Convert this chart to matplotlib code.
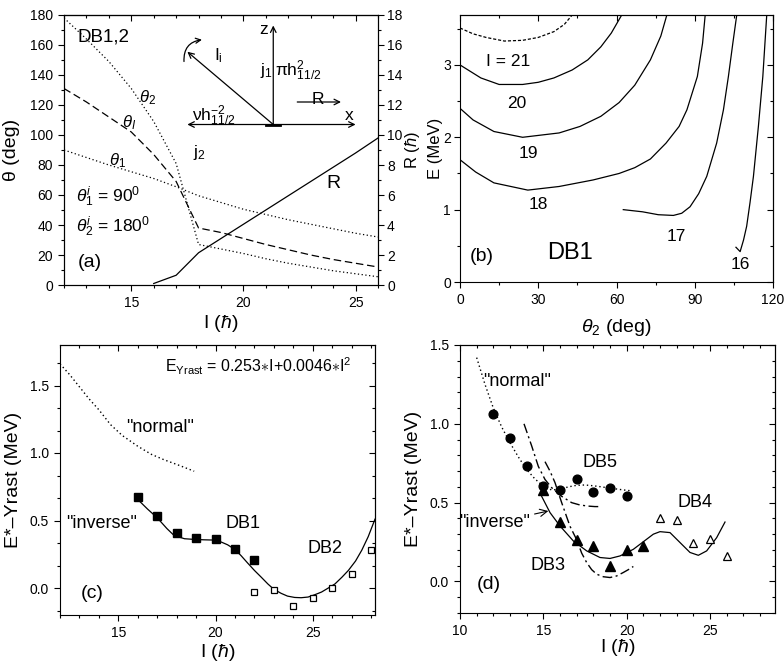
import numpy as np
import matplotlib.pyplot as plt
from matplotlib.ticker import MultipleLocator, NullFormatter

plt.rcParams['font.family'] = ['Liberation Sans', 'DejaVu Sans']
plt.rcParams['mathtext.fontset'] = 'custom'
plt.rcParams['mathtext.rm'] = 'Liberation Sans'
plt.rcParams['mathtext.it'] = 'Liberation Sans:italic'
plt.rcParams['mathtext.bf'] = 'Liberation Sans:bold'
plt.rcParams['axes.linewidth'] = 0.8

# ---- panel (a): angles and R vs spin ----
spin_a = [12, 13, 14, 15, 16, 17, 18, 19, 20, 21, 22, 23, 24, 25, 26]
theta_2 = [178, 164, 149, 131, 109, 81, 27, 24, 21, 17.5, 14.5, 12, 9.5, 7.5, 5.5]
theta_I = [131, 122, 112, 102, 87, 69, 38, 35, 31, 27, 23.5, 20, 17, 14.5, 12]
theta_1 = [90, 85, 80, 75.5, 71, 65.5, 59.5, 55, 50.5, 47, 43.5, 40.5, 37.5, 34.5, 32]
spin_R = [16, 17, 18, 19, 20, 21, 22, 23, 24, 25, 26]
R_vals = [0.1, 0.65, 2.15, 3.1, 4.05, 5.0, 5.95, 6.9, 7.85, 8.8, 9.8]

# ---- panel (b): E(theta_2) curves for fixed I ----
b_th_21 = [0, 5, 10, 17, 24, 30, 36, 40, 43]
b_E_21 = [3.51, 3.43, 3.38, 3.33, 3.34, 3.38, 3.46, 3.56, 3.69]
b_th_20 = [0, 8, 15, 24, 30, 36, 43, 49, 54, 58, 62]
b_E_20 = [3.0, 2.82, 2.73, 2.73, 2.76, 2.82, 2.93, 3.07, 3.25, 3.44, 3.69]
b_th_19 = [0, 5, 13, 24, 38, 46, 54, 61, 67, 73, 77, 79.3]
b_E_19 = [2.40, 2.24, 2.08, 2.0, 2.06, 2.15, 2.29, 2.48, 2.72, 3.07, 3.40, 3.69]
b_th_18 = [0, 6, 13, 26, 38, 51, 61, 67, 73, 79, 84, 87, 91, 93, 94]
b_E_18 = [1.69, 1.52, 1.37, 1.27, 1.32, 1.41, 1.5, 1.58, 1.7, 1.92, 2.15, 2.38, 2.84, 3.3, 3.69]
b_th_17 = [62.6, 70, 76, 81.8, 85, 88.2, 91.5, 94.6, 98.4, 101, 102.9, 104.6, 106.1]
b_E_17 = [1.0, 0.97, 0.93, 0.92, 0.95, 1.04, 1.22, 1.46, 1.92, 2.38, 2.84, 3.3, 3.69]
b_th_16 = [105.8, 107.4, 108.7, 109.9, 111.2, 112.5, 114.4, 116.1, 117.6]
b_E_16 = [0.48, 0.42, 0.58, 0.77, 1.1, 1.46, 2.15, 2.84, 3.69]

# ---- panel (c) ----
spin_db1 = [16, 17, 18, 19, 20, 21, 22]
e_db1 = [0.675, 0.53, 0.41, 0.37, 0.365, 0.29, 0.21]
spin_db2 = [22, 23, 24, 25, 26, 27, 28]
e_db2 = [-0.03, -0.015, -0.135, -0.075, 0.0, 0.105, 0.28]
fit_c_I = [15.97, 16.5, 17.0, 17.5, 17.86, 18.4, 18.9, 19.4, 19.93, 20.3, 20.62, 21.0,
           21.31, 21.65, 22.0, 22.35, 22.69, 23.0, 23.38, 23.7, 24.07, 24.4, 24.76,
           25.1, 25.45, 25.8, 26.14, 26.5, 26.83, 27.2, 27.52, 27.85, 28.2]
fit_c_E = [0.66, 0.585, 0.52, 0.44, 0.39, 0.365, 0.36, 0.357, 0.355, 0.34, 0.32, 0.285,
           0.24, 0.185, 0.13, 0.08, 0.03, -0.01, -0.04, -0.06, -0.07, -0.072, -0.067,
           -0.05, -0.03, 0.0, 0.03, 0.08, 0.13, 0.2, 0.28, 0.38, 0.51]
norm_c_I = [12.0, 12.5, 13.0, 13.5, 14.0, 14.6, 15.2, 16.0, 16.7, 17.35, 18.1, 18.9]
norm_c_E = [1.66, 1.58, 1.49, 1.40, 1.32, 1.21, 1.13, 1.05, 0.99, 0.95, 0.91, 0.865]

# ---- panel (d) ----
spin_db3 = [15, 16, 17, 18, 19, 20, 21]
e_db3 = [0.578, 0.38, 0.263, 0.225, 0.099, 0.198, 0.225]
spin_db4 = [22, 23, 24, 25, 26]
e_db4 = [0.40, 0.39, 0.242, 0.268, 0.162]
spin_db5 = [12, 13, 14, 15, 16, 17, 18, 19, 20]
e_db5 = [1.06, 0.91, 0.73, 0.605, 0.58, 0.647, 0.567, 0.595, 0.542]
norm_d_I = [11.0, 11.5, 12.0, 12.5, 13.0, 13.5, 14.0, 14.5, 15.0, 15.5, 16.0, 16.5,
            17.0, 17.5, 18.0, 18.5, 19.0, 19.5, 20.0, 20.3]
norm_d_E = [1.42, 1.25, 1.10, 0.98, 0.88, 0.79, 0.71, 0.65, 0.605, 0.58, 0.585, 0.60,
            0.61, 0.612, 0.607, 0.60, 0.592, 0.585, 0.578, 0.575]
dda_I = [13.84, 14.3, 14.7, 15.1, 15.5, 16.1, 16.7, 17.2, 17.7, 18.1, 18.5]
dda_E = [1.0, 0.86, 0.73, 0.647, 0.595, 0.54, 0.50, 0.485, 0.478, 0.475, 0.475]
ddb_I = [15.1, 15.4, 15.7, 16.1, 16.6, 17.0, 17.3, 17.6, 17.9, 18.2, 18.6, 19.0,
         19.4, 19.8, 20.1, 20.4]
ddb_E = [0.76, 0.70, 0.627, 0.50, 0.35, 0.265, 0.18, 0.12, 0.075, 0.046, 0.03, 0.025,
         0.035, 0.057, 0.075, 0.095]
fit_d_I = [14.9, 15.4, 16.0, 16.8, 17.6, 18.4, 19.0, 19.6, 20.4, 21.2, 21.6, 22.0,
           22.6, 23.2, 23.8, 24.3, 24.8, 25.4, 25.9]
fit_d_E = [0.54, 0.437, 0.352, 0.257, 0.194, 0.152, 0.146, 0.162, 0.204, 0.268, 0.30,
           0.316, 0.31, 0.247, 0.184, 0.166, 0.194, 0.278, 0.377]

TICK_FS = 10
LAB_FS = 14
TXT_FS = 13
dotted = (0, (1, 2))
dashdot = (0, (7, 2.5, 1.5, 2.5))


def frame(ax, xmaj, xmin, ymaj, ymin, right=True):
    ax.xaxis.set_major_locator(MultipleLocator(xmaj))
    ax.xaxis.set_minor_locator(MultipleLocator(xmin))
    ax.yaxis.set_major_locator(MultipleLocator(ymaj))
    ax.yaxis.set_minor_locator(MultipleLocator(ymin))
    ax.tick_params(which='both', direction='out', labelsize=TICK_FS, width=0.8)
    ax.tick_params(which='major', length=4.5)
    ax.tick_params(which='minor', length=2.5)
    top = ax.secondary_xaxis('top')
    top.xaxis.set_major_locator(MultipleLocator(xmaj))
    top.xaxis.set_minor_locator(MultipleLocator(xmin))
    top.xaxis.set_major_formatter(NullFormatter())
    top.tick_params(which='both', direction='in', width=0.8)
    top.tick_params(which='major', length=4.5)
    top.tick_params(which='minor', length=2.5)
    if right:
        rt = ax.secondary_yaxis('right')
        rt.yaxis.set_major_locator(MultipleLocator(ymaj))
        rt.yaxis.set_minor_locator(MultipleLocator(ymin))
        rt.yaxis.set_major_formatter(NullFormatter())
        rt.tick_params(which='both', direction='in', width=0.8)
        rt.tick_params(which='major', length=4.5)
        rt.tick_params(which='minor', length=2.5)


fig = plt.figure(figsize=(7.84, 6.66), dpi=100)
W, H = 784, 666


def box(l, t, r, b):
    return [l / W, 1 - b / H, (r - l) / W, (b - t) / H]


hbar = 'I ($\\hbar$)'

# ================= (a) =================
ax = fig.add_axes(box(64, 15, 378, 285))
ax.plot(spin_a, theta_2, color='k', lw=0.9, ls=dotted)
ax.plot(spin_a, theta_I, color='k', lw=0.9, ls=(0, (6, 3)))
ax.plot(spin_a, theta_1, color='k', lw=0.9, ls=dotted)
ax.set_xlim(12, 26)
ax.set_ylim(0, 180)
frame(ax, 5, 1, 20, 10, right=False)
ax.set_ylabel('θ (deg)', fontsize=LAB_FS)
ax.set_xlabel(hbar, fontsize=LAB_FS)
ax.yaxis.set_label_coords(-0.14, 0.5)
ax.xaxis.set_label_coords(0.5, -0.105)

ax2 = ax.twinx()
ax2.plot(spin_R, R_vals, color='k', lw=0.9)
ax2.set_ylim(0, 18)
ax2.yaxis.set_major_locator(MultipleLocator(2))
ax2.yaxis.set_minor_locator(MultipleLocator(1))
ax2.tick_params(which='both', direction='out', labelsize=TICK_FS, width=0.8, pad=2)
ax2.tick_params(which='major', length=4.5)
ax2.tick_params(which='minor', length=2.5)
ax2.set_ylabel('R ($\\hbar$)', fontsize=12)
ax2.yaxis.set_label_coords(1.08, 0.5)

ax.text(13.75, 165.5, 'DB1,2', fontsize=TXT_FS + 0.5, ha='center', va='center')
ax.text(15.74, 125, r'$\theta_2$', fontsize=12, ha='center', va='center')
ax.text(14.9, 108, r'$\theta_I$', fontsize=12, ha='center', va='center')
ax.text(14.4, 83, r'$\theta_1$', fontsize=12, ha='center', va='center')
ax.text(12.55, 59, r'$\theta_1^i$ = 90$^0$', fontsize=12.5, ha='left', va='center')
ax.text(12.55, 39, r'$\theta_2^i$ = 180$^0$', fontsize=12.5, ha='left', va='center')
ax.text(13.15, 14.7, '(a)', fontsize=TXT_FS + 1, ha='center', va='center')
ax.text(24.0, 68, 'R', fontsize=TXT_FS + 1, ha='center', va='center')

# coupling diagram
arw = dict(arrowstyle='->', lw=0.9, color='k', mutation_scale=10, shrinkA=0, shrinkB=0)
ax.annotate('', xy=(17.5, 107), xytext=(25.0, 107),
            arrowprops=dict(arrowstyle='<->', lw=0.9, color='k', mutation_scale=10,
                            shrinkA=0, shrinkB=0))
ax.annotate('', xy=(21.33, 173), xytext=(21.33, 107), arrowprops=arw)
ax.annotate('', xy=(17.5, 155.5), xytext=(21.33, 107), arrowprops=arw)
ax.annotate('', xy=(24.35, 122), xytext=(22.4, 122), arrowprops=arw)
ax.annotate('', xy=(18.15, 163.5), xytext=(17.35, 149),
            arrowprops=dict(arrowstyle='->', lw=0.9, color='k', mutation_scale=9,
                            shrinkA=0, shrinkB=0, connectionstyle='arc3,rad=-0.45'))
ax.plot([21.0, 21.65], [107, 107], color='k', lw=2)
ax.text(20.9, 170, 'z', fontsize=12.5, ha='center', va='center')
ax.text(18.9, 153, r'$\mathrm{I_i}$', fontsize=12.5, ha='center', va='center')
ax.text(21.0, 143, r'$\mathrm{j_1}$', fontsize=12.5, ha='center', va='center')
ax.text(22.45, 143, r'$\mathrm{\pi h^2_{11/2}}$', fontsize=12.5, ha='center', va='center')
ax.text(23.34, 123.5, 'R', fontsize=12.5, ha='center', va='center')
ax.text(24.7, 113, 'x', fontsize=12.5, ha='center', va='center')
ax.text(18.69, 113, r'$\mathrm{\nu h^{-2}_{11/2}}$', fontsize=12.5, ha='center', va='center')
ax.text(18.05, 88, r'$\mathrm{j_2}$', fontsize=12.5, ha='center', va='center')

# ================= (b) =================
bx = fig.add_axes(box(460, 15, 773, 282))
bx.plot(b_th_21, b_E_21, color='k', lw=0.9, ls=(0, (2.5, 1.5)))
for th, e in [(b_th_20, b_E_20), (b_th_19, b_E_19), (b_th_18, b_E_18),
              (b_th_17, b_E_17), (b_th_16, b_E_16)]:
    bx.plot(th, e, color='k', lw=0.9)
bx.set_xlim(0, 120)
bx.set_ylim(0, 3.69)
frame(bx, 30, 15, 1, 0.5)
bx.tick_params(axis='y', pad=2)
bx.set_ylabel('E (MeV)', fontsize=12)
bx.set_xlabel(r'$\theta_2$ (deg)', fontsize=LAB_FS)
bx.yaxis.set_label_coords(-0.054, 0.5)
bx.xaxis.set_label_coords(0.5, -0.13)
bx.text(18.5, 3.05, 'I = 21', fontsize=12.5, ha='center', va='center')
bx.text(21.7, 2.47, '20', fontsize=12.5, ha='center', va='center')
bx.text(26.2, 1.78, '19', fontsize=12.5, ha='center', va='center')
bx.text(30.0, 1.07, '18', fontsize=12.5, ha='center', va='center')
bx.text(83.1, 0.63, '17', fontsize=12.5, ha='center', va='center')
bx.text(107.4, 0.24, '16', fontsize=12.5, ha='center', va='center')
bx.text(8.3, 0.35, '(b)', fontsize=TXT_FS + 1, ha='center', va='center')
bx.text(42.2, 0.4, 'DB1', fontsize=17, ha='center', va='center')

# ================= (c) =================
cx = fig.add_axes(box(60, 345, 375, 615))
cx.plot(norm_c_I, norm_c_E, color='k', lw=1.0, ls=dotted)
cx.plot(fit_c_I, fit_c_E, color='k', lw=0.9)
cx.plot(spin_db1, e_db1, ls='none', marker='s', ms=5.5, color='k')
cx.plot(spin_db2, e_db2, ls='none', marker='s', ms=4.8, mfc='white', mec='k', mew=0.9)
cx.set_xlim(12, 28.2)
cx.set_ylim(-0.2, 1.8)
frame(cx, 5, 1, 0.5, 0.5 / 3)
cx.set_ylabel('E*–Yrast (MeV)', fontsize=LAB_FS)
cx.set_xlabel(hbar, fontsize=LAB_FS)
cx.yaxis.set_label_coords(-0.12, 0.5)
cx.xaxis.set_label_coords(0.5, -0.1)
cx.text(22.2, 1.645, r'E$_{\mathrm{Yrast}}$ = 0.253$\ast$I+0.0046$\ast$I$^2$',
        fontsize=11.5, ha='center', va='center')
cx.text(17.15, 1.19, '"normal"', fontsize=TXT_FS, ha='center', va='center')
cx.text(14.15, 0.48, '"inverse"', fontsize=TXT_FS, ha='center', va='center')
cx.text(21.43, 0.48, 'DB1', fontsize=TXT_FS, ha='center', va='center')
cx.text(25.64, 0.29, 'DB2', fontsize=TXT_FS, ha='center', va='center')
cx.text(13.63, -0.04, '(c)', fontsize=TXT_FS + 1, ha='center', va='center')

# ================= (d) =================
dx = fig.add_axes(box(460, 345, 775, 613))
dx.plot(norm_d_I, norm_d_E, color='k', lw=1.0, ls=dotted)
dx.plot(dda_I, dda_E, color='k', lw=1.0, ls=dashdot)
dx.plot(ddb_I, ddb_E, color='k', lw=1.0, ls=dashdot)
dx.plot(fit_d_I, fit_d_E, color='k', lw=0.9)
dx.plot(spin_db5, e_db5, ls='none', marker='o', ms=6.3, color='k')
dx.plot(spin_db3, e_db3, ls='none', marker='^', ms=7, color='k')
dx.plot(spin_db4, e_db4, ls='none', marker='^', ms=6, mfc='white', mec='k', mew=0.9)
dx.set_xlim(10, 28.9)
dx.set_ylim(-0.2, 1.5)
frame(dx, 5, 1, 0.5, 0.1)
dx.set_ylabel('E*–Yrast (MeV)', fontsize=LAB_FS)
dx.set_xlabel(hbar, fontsize=LAB_FS)
dx.yaxis.set_label_coords(-0.12, 0.5)
dx.xaxis.set_label_coords(0.5, -0.09)
dx.text(13.45, 1.27, '"normal"', fontsize=TXT_FS, ha='center', va='center')
dx.text(18.4, 0.753, 'DB5', fontsize=TXT_FS, ha='center', va='center')
dx.text(24.1, 0.5, 'DB4', fontsize=TXT_FS, ha='center', va='center')
dx.text(15.3, 0.1, 'DB3', fontsize=TXT_FS, ha='center', va='center')
dx.text(11.7, -0.017, '(d)', fontsize=TXT_FS + 1, ha='center', va='center')
dx.annotate('"inverse"', xy=(15.3, 0.447), xytext=(12.1, 0.373), fontsize=TXT_FS,
            ha='center', va='center',
            arrowprops=dict(arrowstyle='->', lw=0.8, color='k', shrinkA=1, shrinkB=0))

fig.savefig('out.png', dpi=100)
